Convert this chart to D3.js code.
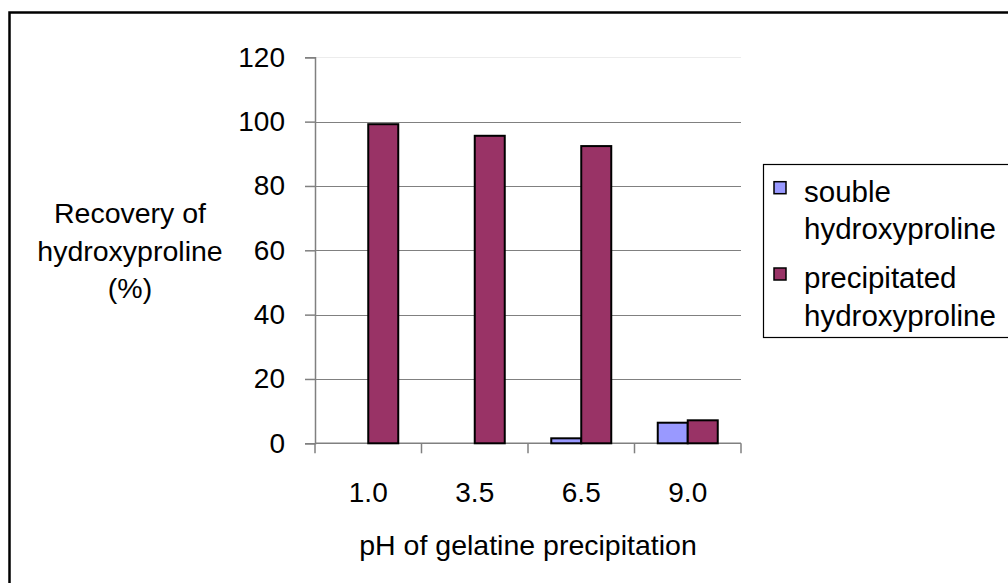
<!DOCTYPE html>
<html>
<head>
<meta charset="utf-8">
<script src="https://cdn.jsdelivr.net/npm/d3@7"></script>
<style>
  html, body { margin: 0; padding: 0; background: #fff; }
  svg { display: block; font-family: "Liberation Sans", Arial, sans-serif; }
</style>
</head>
<body>
<svg id="chart" width="1008" height="583"></svg>
<script>
// ---- data ----
const categories = ["1.0", "3.5", "6.5", "9.0"];
const seriesNames = ["souble hydroxyproline", "precipitated hydroxyproline"];
const solubleValues = [0, 0, 1.55, 6.4];
const precipitatedValues = [99.2, 95.6, 92.4, 7.15];
const yTicks = [0, 20, 40, 60, 80, 100, 120];
const seriesColors = ["#9999FF", "#993366"];
const xTitle = "pH of gelatine precipitation";
const yTitleLines = ["Recovery of", "hydroxyproline", "(%)"];
const legendLines = [["souble", "hydroxyproline"], ["precipitated", "hydroxyproline"]];

const svg = d3.select("#chart");

// outer chart border
svg.append("rect")
  .attr("x", 9.5).attr("y", 12.5)
  .attr("width", 1100).attr("height", 1000)
  .attr("fill", "none").attr("stroke", "#000").attr("stroke-width", 2.5);

const plot = { left: 315, right: 741, top: 57.3, bottom: 443.3 };

const x = d3.scaleBand().domain(categories).range([plot.left, plot.right]).padding(0);
const bw = x.bandwidth();
const xs = d3.scaleBand().domain(seriesNames).range([bw / 2 - 30, bw / 2 + 30]).padding(0);
const y = d3.scaleLinear().domain([0, 120]).range([plot.bottom, plot.top]);

// gridlines
svg.append("g").selectAll("line")
  .data(yTicks.filter(d => d > 0))
  .join("line")
  .attr("x1", plot.left).attr("x2", plot.right)
  .attr("y1", d => Math.round(y(d)) + 0.5).attr("y2", d => Math.round(y(d)) + 0.5)
  .attr("stroke", d => d === 120 ? "#ececec" : "#808080")
  .attr("stroke-width", 1.2);

// y axis
const yAxis = svg.append("g")
  .attr("transform", `translate(${plot.left},0)`)
  .call(d3.axisLeft(y).tickValues(yTicks).tickSize(10).tickPadding(20).tickFormat(d3.format("d")));
yAxis.select(".domain").attr("stroke", "#808080").attr("stroke-width", 1.5);
yAxis.selectAll(".tick line").attr("stroke", "#808080").attr("stroke-width", 1.5);
yAxis.selectAll(".tick text")
  .attr("font-size", 28).attr("fill", "#000")
  .attr("font-family", "Liberation Sans, Arial, sans-serif");

// x axis
const xg = svg.append("g");
xg.append("line")
  .attr("x1", plot.left).attr("x2", plot.right)
  .attr("y1", y(0)).attr("y2", y(0))
  .attr("stroke", "#808080").attr("stroke-width", 1.5);
const bounds = categories.map(c => x(c)).concat([x(categories[categories.length - 1]) + bw]);
xg.selectAll("line.tk").data(bounds).join("line")
  .attr("class", "tk")
  .attr("x1", d => d).attr("x2", d => d)
  .attr("y1", y(0)).attr("y2", y(0) + 10)
  .attr("stroke", "#808080").attr("stroke-width", 1.5);
xg.selectAll("text").data(categories).join("text")
  .attr("x", d => x(d) + bw / 2)
  .attr("y", 502)
  .attr("text-anchor", "middle")
  .attr("font-size", 28)
  .text(d => d);

// bars
const seriesData = [solubleValues, precipitatedValues];
seriesNames.forEach((s, si) => {
  svg.append("g").selectAll("rect")
    .data(categories.map((c, i) => ({ c, v: seriesData[si][i] })).filter(d => d.v > 0))
    .join("rect")
    .attr("x", d => x(d.c) + xs(s))
    .attr("width", xs.bandwidth())
    .attr("y", d => y(d.v))
    .attr("height", d => y(0) - y(d.v))
    .attr("fill", seriesColors[si])
    .attr("stroke", "#000")
    .attr("stroke-width", 2);
});

// x title
svg.append("text")
  .attr("x", (plot.left + plot.right) / 2)
  .attr("y", 555)
  .attr("text-anchor", "middle")
  .attr("font-size", 28.5)
  .text(xTitle);

// y title
svg.append("text")
  .attr("text-anchor", "middle")
  .attr("font-size", 28.5)
  .selectAll("tspan").data(yTitleLines).join("tspan")
  .attr("x", 130)
  .attr("y", (d, i) => 223 + i * 37.5)
  .text(d => d);

// legend
const lg = svg.append("g");
lg.append("rect")
  .attr("x", 763.5).attr("y", 164.5)
  .attr("width", 400).attr("height", 173)
  .attr("fill", "#fff").attr("stroke", "#000").attr("stroke-width", 1.2);
const itemY = [201.7, 288];
legendLines.forEach((lines, i) => {
  lg.append("rect")
    .attr("x", 774).attr("y", itemY[i] - 20)
    .attr("width", 12).attr("height", 12)
    .attr("fill", seriesColors[i]).attr("stroke", "#000").attr("stroke-width", 1.5);
  lg.append("text")
    .attr("font-size", 29.5)
    .selectAll("tspan").data(lines).join("tspan")
    .attr("x", 804)
    .attr("y", (d, j) => itemY[i] + j * 37.5)
    .text(d => d);
});
</script>
</body>
</html>
